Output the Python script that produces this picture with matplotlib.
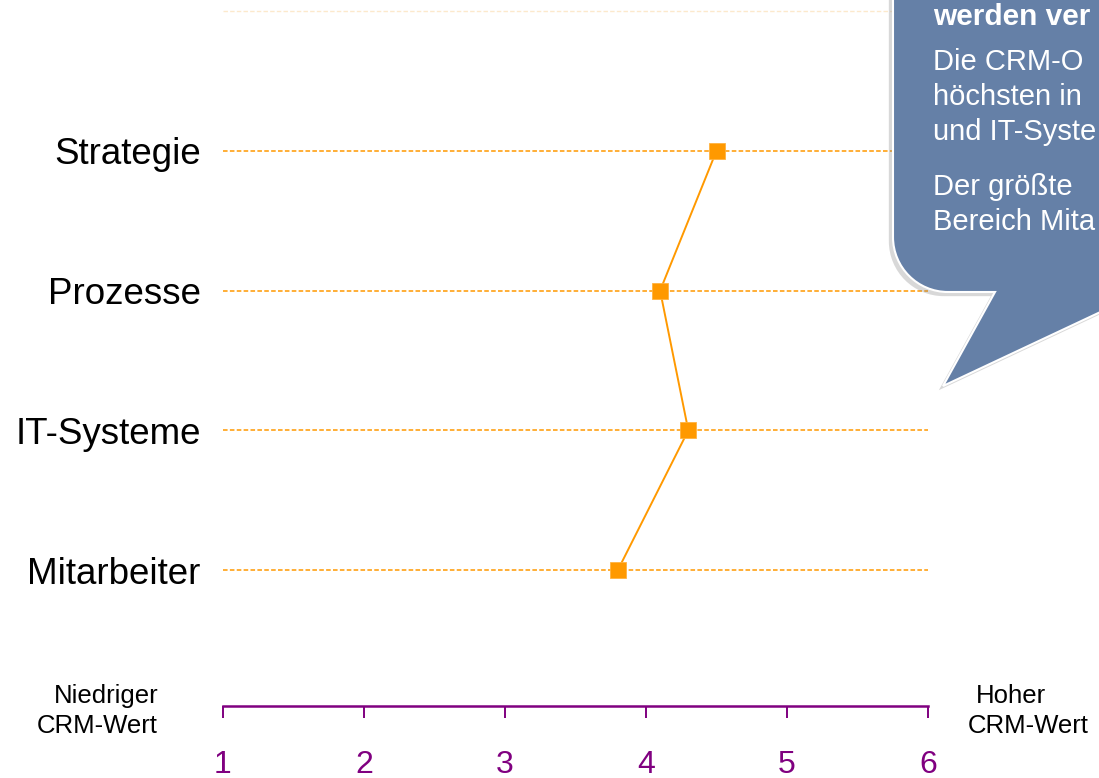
import matplotlib
matplotlib.use("Agg")
import matplotlib.pyplot as plt
from matplotlib.path import Path
from matplotlib.patches import PathPatch
from matplotlib.transforms import IdentityTransform
import matplotlib.patheffects as pe

# ---- data ----
categories = ["Mitarbeiter", "IT-Systeme", "Prozesse", "Strategie"]
values = [3.8, 4.3, 4.1, 4.5]
x_ticks = [1, 2, 3, 4, 5, 6]
x_tick_labels = ["1", "2", "3", "4", "5", "6"]
low_label = ["Niedriger", "CRM-Wert"]
high_label = ["Hoher", "CRM-Wert"]
callout_lines = [
    ("werden ver", True),
    ("Die CRM-O", False),
    ("höchsten in", False),
    ("und IT-Syste", False),
    ("Der größte", False),
    ("Bereich Mita", False),
]

W, H = 1099, 778
ORANGE = "#FF9900"
PURPLE = "#800080"
BOX = "#6580A7"
plt.rcParams["font.family"] = ["Liberation Sans", "DejaVu Sans"]

fig = plt.figure(figsize=(W / 100, H / 100), dpi=100)

# axes: x=1 -> px 223, x=6 -> px 928 ; y index 0 -> px 570, 4 -> px 11, bottom spine at px 706
x0, x1 = 223, 928
ytop_px, ybot_px = 11, 706
ax = fig.add_axes([x0 / W, 1 - ybot_px / H, (x1 - x0) / W, (ybot_px - ytop_px) / H])
ymin = -(706 - 570) / 140.0
ax.set_xlim(1, 6)
ax.set_ylim(ymin, 4)

ypos = list(range(len(categories)))
for y in ypos:
    ax.plot([1, 6], [y, y], color=ORANGE, lw=1.1, linestyle=(0, (3.0, 1.5)), zorder=1)
ax.plot([1, 6], [4, 4], color="#FCE9CC", lw=1.0, linestyle=(0, (3.2, 1.6)), zorder=1, clip_on=False)

ax.plot(values, ypos, color=ORANGE, lw=1.4, marker="s", markersize=11.5,
        markerfacecolor=ORANGE, markeredgecolor="#FFB340", markeredgewidth=0.6, zorder=3)

ax.set_yticks(ypos)
ax.set_yticklabels(categories, fontsize=26.5, color="black")
ax.tick_params(axis="y", length=0, pad=16)

ax.set_xticks(x_ticks)
ax.set_xticklabels(x_tick_labels, fontsize=23, color=PURPLE)
ax.tick_params(axis="x", direction="out", length=8.6, width=1.4, color=PURPLE, pad=23)

for s in ["left", "right", "top"]:
    ax.spines[s].set_visible(False)
ax.spines["bottom"].set_color(PURPLE)
ax.spines["bottom"].set_linewidth(1.8)
ax.patch.set_alpha(0)

# end labels
def px(x, y):
    return x / W, 1 - y / H

fig.text(*px(158, 703), low_label[0], ha="right", va="baseline", fontsize=18.5)
fig.text(*px(158, 733), low_label[1], ha="right", va="baseline", fontsize=18.5)
fig.text(*px(976, 703), high_label[0], ha="left", va="baseline", fontsize=18.5)
fig.text(*px(968, 733), high_label[1], ha="left", va="baseline", fontsize=18.5)

# callout shape (display pixel coords, y flipped)
def d(x, y):
    return (x, H - y)

r = 55
k = 0.5523 * r
verts = [
    d(893, -60),
    d(893, 292 - r),
    d(893, 292 - r + k), d(948 - k, 292), d(948, 292),
    d(995, 292),
    d(943, 386),
    d(1160, 284),
    d(1160, -60),
    d(893, -60),
]
codes = [Path.MOVETO, Path.LINETO, Path.CURVE4, Path.CURVE4, Path.CURVE4,
         Path.LINETO, Path.LINETO, Path.LINETO, Path.LINETO, Path.CLOSEPOLY]
patch = PathPatch(Path(verts, codes), facecolor=BOX, edgecolor="white", lw=1.5,
                  transform=IdentityTransform(), zorder=5)
patch.set_path_effects([pe.SimplePatchShadow(offset=(-3, -3), alpha=0.3, shadow_rgbFace="gray"), pe.Normal()])
fig.patches.append(patch)

baselines = [25, 70, 105, 140, 195, 230]
for (txt, bold), yb in zip(callout_lines, baselines):
    fig.text(*px(933, yb), txt, ha="left", va="baseline",
             fontsize=21.5 if bold else 21, color="white",
             fontweight="bold" if bold else "normal", zorder=6)

fig.savefig("out.png", dpi=100)
